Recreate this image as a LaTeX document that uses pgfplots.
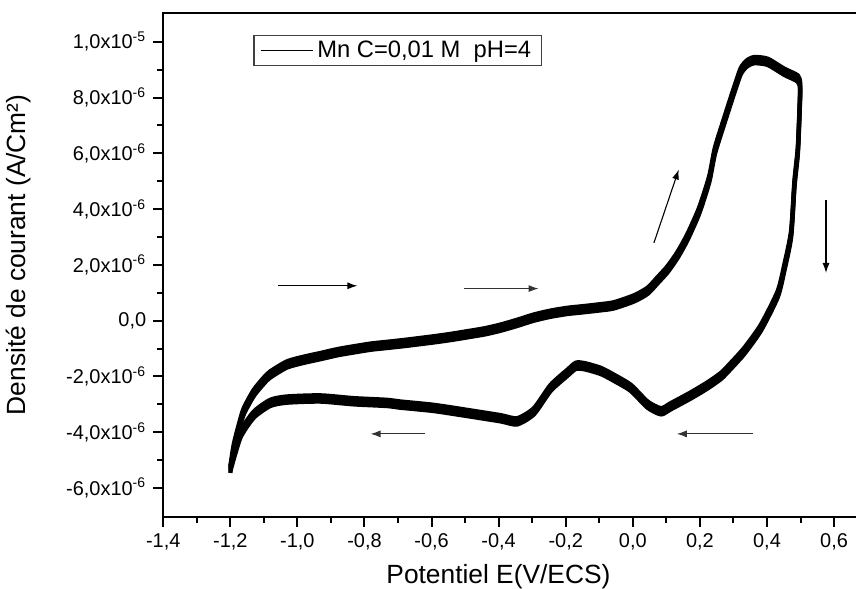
\documentclass[border=0pt]{standalone}
\usepackage{pgfplots}
\pgfplotsset{compat=1.18}
\usepackage{pgfplotstable}
\usepackage{fontspec}
\setmainfont{Liberation Sans}
\usetikzlibrary{calc,arrows.meta}

% current density in units of 1e-6 A/cm^2
\pgfplotstableread{
x y
-1.200 -5.35
-1.190 -4.57
-1.175 -3.85
-1.160 -3.25
-1.130 -2.59
-1.100 -2.15
-1.081 -1.93
-1.031 -1.57
-0.980 -1.40
-0.931 -1.27
-0.880 -1.13
-0.832 -1.03
-0.780 -0.93
-0.733 -0.87
-0.680 -0.80
-0.633 -0.73
-0.593 -0.67
-0.540 -0.58
-0.494 -0.49
-0.440 -0.38
-0.394 -0.25
-0.345 -0.08
-0.295 0.11
-0.245 0.25
-0.195 0.35
-0.155 0.40
-0.096 0.48
-0.056 0.55
0.004 0.80
0.044 1.07
0.074 1.45
0.104 1.85
0.133 2.35
0.163 3.00
0.198 3.95
0.228 5.08
0.245 6.10
0.273 7.18
0.302 8.26
0.322 8.95
0.340 9.22
0.362 9.34
0.402 9.28
0.452 8.92
0.492 8.68
0.499 8.38
0.497 7.50
0.492 6.10
0.482 4.91
0.472 3.11
0.452 1.91
0.432 0.95
0.382 -0.25
0.332 -1.09
0.290 -1.65
0.263 -1.98
0.223 -2.32
0.173 -2.68
0.113 -3.07
0.084 -3.25
0.044 -3.01
-0.006 -2.41
-0.056 -2.05
-0.096 -1.80
-0.145 -1.63
-0.170 -1.62
-0.195 -1.87
-0.245 -2.41
-0.295 -3.25
-0.345 -3.61
-0.394 -3.50
-0.494 -3.31
-0.593 -3.13
-0.693 -3.01
-0.733 -2.95
-0.832 -2.89
-0.931 -2.79
-1.031 -2.83
-1.081 -2.95
-1.130 -3.37
-1.170 -4.09
-1.200 -5.29
}\cvdata

\begin{document}
\begin{tikzpicture}
\begin{axis}[
  name=ax,
  scale only axis,
  width=346.5bp, height=251.5bp,
  xmin=-1.4, xmax=0.669,
  ymin=-7.03, ymax=11.03,
  xtick={-1.4,-1.2,-1.0,-0.8,-0.6,-0.4,-0.2,0,0.2,0.4,0.6},
  xticklabels={{-1,4},{-1,2},{-1,0},{-0,8},{-0,6},{-0,4},{-0,2},{0,0},{0,2},{0,4},{0,6}},
  minor xtick={-1.3,-1.1,-0.9,-0.7,-0.5,-0.3,-0.1,0.1,0.3,0.5},
  ytick={-6,-4,-2,0,2,4,6,8,10},
  yticklabels={{-6,0x10\textsuperscript{-6}},{-4,0x10\textsuperscript{-6}},{-2,0x10\textsuperscript{-6}},{0,0},{2,0x10\textsuperscript{-6}},{4,0x10\textsuperscript{-6}},{6,0x10\textsuperscript{-6}},{8,0x10\textsuperscript{-6}},{1,0x10\textsuperscript{-5}}},
  minor ytick={-5,-3,-1,1,3,5,7,9},
  tick align=outside,
  tick pos=left,
  major tick length=5bp,
  minor tick length=3bp,
  axis line style={line width=1bp},
  every tick/.style={black, line width=1bp},
  tick label style={font=\fontsize{10}{11}\selectfont},
  label style={font=\fontsize{13.2}{15}\selectfont},
  xlabel={Potentiel E(V/ECS)},
  ylabel={Densité de courant (A/Cm²)},
  xlabel style={at={(ticklabel cs:0.483)}},
  ylabel style={at={(ticklabel cs:0.52)}},
  ylabel shift=11bp,
  legend style={at={(rel axis cs:0.130,0.956)}, anchor=north west,
    draw=black!75, line width=0.6bp,
    font=\fontsize{11.9}{13}\selectfont, inner xsep=3bp, inner ysep=0.5bp},
  legend image code/.code={\draw[black,line width=0.6bp] (0bp,0bp) -- (26bp,0bp);},
]
\addplot[black, line width=2.2bp, line join=round, smooth, tension=0.4] table[x=x, y expr=\thisrow{y}] {\cvdata};
\addlegendentry{Mn C=0,01 M\ \ pH=4}
\addplot[black, line width=2.2bp, line join=round, smooth, tension=0.4, forget plot] table[x=x, y expr=\thisrow{y}+0.11] {\cvdata};
\addplot[black, line width=2.2bp, line join=round, smooth, tension=0.4, forget plot] table[x=x, y expr=\thisrow{y}-0.11] {\cvdata};

\draw[-{Latex[length=5bp,width=3.5bp]}, line width=0.55bp] (axis cs:-1.057,1.25) -- (axis cs:-0.821,1.25);
\draw[-{Latex[length=5bp,width=3.5bp]}, line width=0.55bp, black!80] (axis cs:-0.504,1.15) -- (axis cs:-0.281,1.15);
\draw[-{Latex[length=5bp,width=3.5bp]}, line width=0.55bp, black!80] (axis cs:-0.621,-4.06) -- (axis cs:-0.782,-4.06);
\draw[-{Latex[length=5bp,width=3.5bp]}, line width=0.55bp, black!80] (axis cs:0.358,-4.06) -- (axis cs:0.131,-4.06);
\draw[-{Latex[length=5bp,width=3.5bp]}, line width=0.55bp] (axis cs:0.063,2.79) -- (axis cs:0.137,5.42);
\draw[-{Latex[length=5bp,width=3.5bp]}, line width=0.55bp] (axis cs:0.576,4.31) -- (axis cs:0.576,1.71);
\end{axis}
\pgfresetboundingbox
\path ($(ax.south west)+(-81.5bp,-36bp)$) rectangle ($(ax.north east)+(-0.6bp,6.5bp)$);
\end{tikzpicture}
\end{document}
